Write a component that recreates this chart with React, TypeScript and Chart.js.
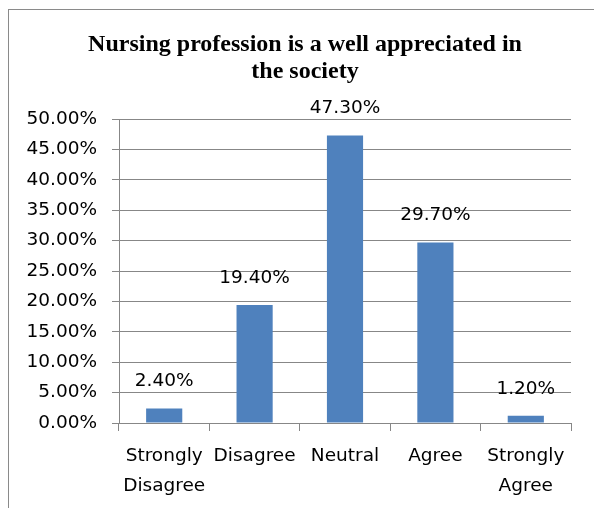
import React, { useEffect, useRef } from 'react';
import { Chart, registerables } from 'chart.js';

Chart.register(...registerables);

const categories: (string | string[])[] = [
  ['Strongly', 'Disagree'],
  'Disagree',
  'Neutral',
  'Agree',
  ['Strongly', 'Agree'],
];
const values = [2.4, 19.4, 47.3, 29.7, 1.2];
const titleLines = ['Nursing profession is a well appreciated in', 'the society'];
const yMin = 0;
const yMax = 50;
const yStep = 5;

const GRID = '#878787';
const BAR = '#4F81BD';
const FONT = '"DejaVu Sans", sans-serif';

const barLabels = {
  id: 'barLabels',
  afterDatasetsDraw(chart: any) {
    const ctx = chart.ctx;
    const meta = chart.getDatasetMeta(0);
    ctx.save();
    ctx.font = '18.5px ' + FONT;
    ctx.fillStyle = '#000';
    ctx.textAlign = 'center';
    ctx.textBaseline = 'middle';
    meta.data.forEach((el: any, i: number) => {
      ctx.fillText(values[i].toFixed(2) + '%', el.x, el.y - 27);
    });
    ctx.restore();
  },
};

const chartTitle = {
  id: 'chartTitle',
  afterDraw(chart: any) {
    const ctx = chart.ctx;
    ctx.save();
    ctx.font = 'bold 24px "Liberation Serif", "Times New Roman", serif';
    ctx.fillStyle = '#000';
    ctx.textAlign = 'center';
    ctx.textBaseline = 'middle';
    const cx = (16 + chart.chartArea.right) / 2 + 11.5;
    titleLines.forEach((line, i) => {
      ctx.fillText(line, cx, 45 + i * 27);
    });
    ctx.restore();
  },
};

export default function App() {
  const ref = useRef<HTMLCanvasElement | null>(null);
  useEffect(() => {
    if (!ref.current) return;
    const chart = new Chart(ref.current, {
      type: 'bar',
      data: {
        labels: categories,
        datasets: [
          {
            data: values,
            backgroundColor: BAR,
            borderWidth: 0,
            barPercentage: 0.8,
            categoryPercentage: 0.5,
          },
        ],
      },
      options: {
        responsive: false,
        animation: false,
        devicePixelRatio: 1,
        layout: { padding: { left: 16, right: 23, top: 119, bottom: 0 } },
        plugins: {
          legend: { display: false },
          tooltip: { enabled: false },
          title: { display: false },
        },
        scales: {
          x: {
            offset: true,
            grid: {
              display: true,
              drawOnChartArea: false,
              drawTicks: true,
              tickLength: 8,
              offset: true,
              color: GRID,
            },
            border: { display: true, color: GRID },
            ticks: {
              color: '#000',
              font: { family: FONT, size: 18.5, lineHeight: 30 / 18.5 },
              padding: 10,
              maxRotation: 0,
              autoSkip: false,
            },
            afterFit(scale: any) {
              scale.height = 85;
            },
          },
          y: {
            min: yMin,
            max: yMax,
            grid: { color: GRID, tickLength: 7 },
            border: { display: true, color: GRID },
            ticks: {
              stepSize: yStep,
              color: '#000',
              font: { family: FONT, size: 18.5 },
              padding: 15,
              callback: (v: any) => Number(v).toFixed(2) + '%',
            },
            afterFit(scale: any) {
              scale.width = 103;
            },
          },
        },
      },
      plugins: [barLabels, chartTitle],
    } as any);
    return () => chart.destroy();
  }, []);

  return (
    <div style={{ position: 'absolute', left: 0, top: 0, width: 594, height: 508, overflow: 'hidden', background: '#fff' }}>
      <div
        style={{
          position: 'absolute',
          left: 8,
          top: 9,
          width: 800,
          height: 800,
          border: '1px solid #8a8a8a',
        }}
      />
      <canvas ref={ref} width={594} height={508} style={{ position: 'absolute', left: 0, top: 0, width: 594, height: 508 }} />
    </div>
  );
}
